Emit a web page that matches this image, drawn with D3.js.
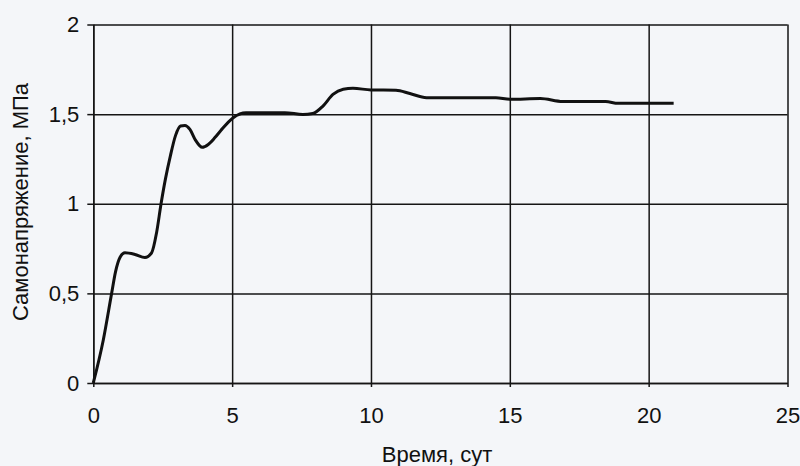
<!DOCTYPE html>
<html>
<head>
<meta charset="utf-8">
<script src="https://cdn.jsdelivr.net/npm/d3@7"></script>
<style>
  body { margin: 0; background: #f4f6f9; }
  svg { display: block; font-family: "Liberation Sans", Arial, sans-serif; }
  .tick text { font-size: 22px; fill: #111; }
  .axis path, .axis line, .grid line { stroke: #151515; stroke-width: 1.5; }
  .grid path { display: none; }
</style>
</head>
<body>
<script>
// days
const time = [0, 0.36, 0.66, 0.8, 0.96, 1.14, 1.5, 1.86, 2.1, 2.28,
  2.44, 2.6, 2.78, 2.96, 3.14, 3.3, 3.48, 3.68, 3.92, 4.14,
  4.38, 4.6, 5.04, 5.5, 6.9, 7.55, 7.9, 8.27, 8.63, 9.0,
  9.35, 10.0, 10.9, 11.4, 12.0, 14.5, 15.0, 16.1, 16.9, 18.45,
  18.9, 20.9];
// MPa
const stress = [0, 0.24, 0.5, 0.62, 0.70, 0.726, 0.717, 0.70, 0.726, 0.84,
  1.0, 1.14, 1.27, 1.38, 1.434, 1.437, 1.415, 1.355, 1.315, 1.331,
  1.369, 1.41, 1.48, 1.507, 1.508, 1.498, 1.503, 1.545, 1.61, 1.639,
  1.644, 1.635, 1.633, 1.615, 1.592, 1.592, 1.583, 1.587, 1.57, 1.57,
  1.56, 1.56];

const xTicks = [0, 5, 10, 15, 20, 25];
const yTicks = [0, 0.5, 1, 1.5, 2];
const xTitle = "Время, сут";
const yTitle = "Самонапряжение, МПа";

const width = 800, height = 466;
const mLeft = 93.3, mRight = 787.5, mTop = 24.5, mBottom = 383;

const ru = d3.formatLocale({ decimal: ",", thousands: " ", grouping: [3], currency: ["", ""] });
const fmt = ru.format("~g");

const x = d3.scaleLinear().domain([0, 25]).range([mLeft, mRight]);
const y = d3.scaleLinear().domain([0, 2]).range([mBottom, mTop]);

const svg = d3.select("body").append("svg")
    .attr("width", width)
    .attr("height", height);

// grid
svg.append("g")
    .attr("class", "grid")
    .attr("transform", `translate(${mLeft},0)`)
    .call(d3.axisLeft(y).tickValues(yTicks).tickSize(-(mRight - mLeft)).tickFormat(""));

svg.append("g")
    .attr("class", "grid")
    .attr("transform", `translate(0,${mBottom})`)
    .call(d3.axisBottom(x).tickValues(xTicks).tickSize(-(mBottom - mTop)).tickFormat(""));

// axes
svg.append("g")
    .attr("class", "axis")
    .attr("transform", `translate(${mLeft},0)`)
    .call(d3.axisLeft(y).tickValues(yTicks).tickSizeInner(6).tickSizeOuter(0).tickPadding(8).tickFormat(fmt));

svg.append("g")
    .attr("class", "axis")
    .attr("transform", `translate(0,${mBottom})`)
    .call(d3.axisBottom(x).tickValues(xTicks).tickSizeInner(4).tickSizeOuter(0).tickPadding(20).tickFormat(fmt));

svg.selectAll(".axis").attr("font-family", null).attr("font-size", null);

const line = d3.line()
    .x((d, i) => x(time[i]))
    .y(d => y(d))
    .curve(d3.curveMonotoneX);

svg.append("path")
    .datum(stress)
    .attr("fill", "none")
    .attr("stroke", "#111")
    .attr("stroke-width", 3)
    .attr("stroke-linejoin", "round")
    .attr("d", line);

svg.append("text")
    .attr("x", 437)
    .attr("y", 462)
    .attr("text-anchor", "middle")
    .attr("font-size", 22)
    .attr("fill", "#111")
    .text(xTitle);

svg.append("text")
    .attr("transform", "translate(20,202) rotate(-90)")
    .attr("text-anchor", "middle")
    .attr("dominant-baseline", "central")
    .attr("font-size", 22)
    .attr("fill", "#111")
    .text(yTitle);
</script>
</body>
</html>
